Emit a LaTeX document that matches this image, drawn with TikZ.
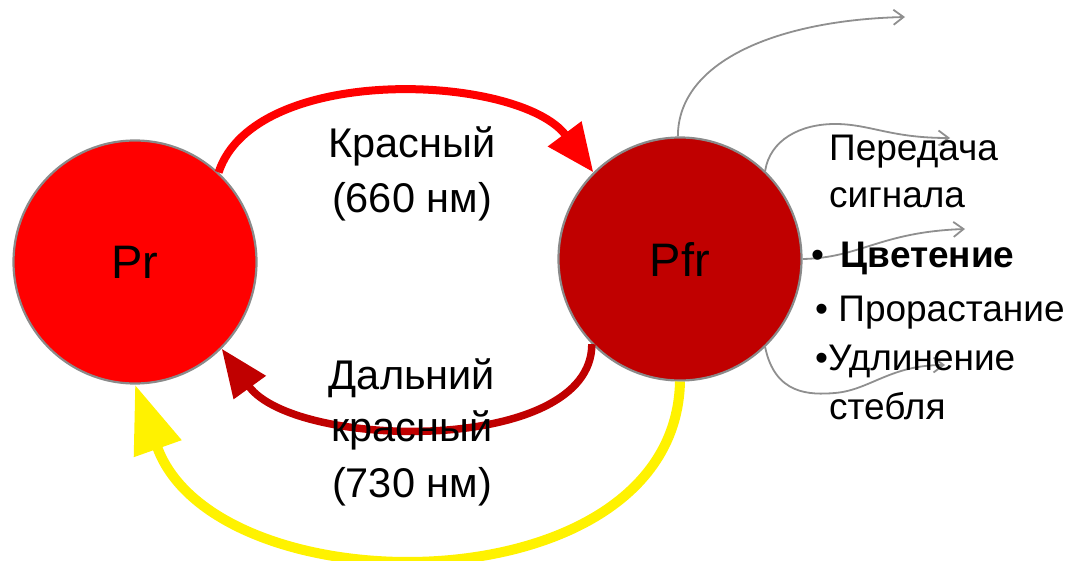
\documentclass[tikz,border=0pt]{standalone}
\usepackage{fontspec}
\setmainfont{Liberation Sans}
\usetikzlibrary{arrows.meta}
\definecolor{pfrred}{HTML}{C00000}
\definecolor{ringgray}{HTML}{8A8A8A}
\definecolor{flowgray}{HTML}{8F8F8F}
\begin{document}
\begin{tikzpicture}[x=1pt,y=-1pt,
  pigment/.style={circle, draw=ringgray, line width=2.2pt, minimum size=243pt, inner sep=0pt, font=\fontsize{47}{56}\selectfont},
  lbl/.style={anchor=base, inner sep=0pt, font=\fontsize{41.5}{49}\selectfont},
  effect/.style={anchor=base west, inner sep=0pt, font=\fontsize{37}{44}\selectfont},
  flow/.style={draw=flowgray, line width=1.8pt, -{Straight Barb[length=10pt,width=15pt]}}]
\useasboundingbox (0,0) rectangle (1068,561);
\node[pigment, fill=red] (pr) at (135,262) {Pr};
\node[pigment, fill=pfrred] (pfr) at (680,259) {Pfr};
\coordinate (e1) at (905,17);
\coordinate (e2) at (950,138);
\coordinate (e3) at (965,229);
\coordinate (e4) at (945,365);
\draw[flow] (pfr.91) .. controls (678,60) and (780,20) .. (e1);
\draw[flow] (pfr.46) .. controls (770,140) and (800,124) .. (835,124) .. controls (870,124) and (890,138) .. (e2);
\draw[flow] (pfr.0) .. controls (860,258) and (880,232) .. (e3);
\draw[flow] (pfr.-46) .. controls (775,395) and (810,395) .. (835,393) .. controls (870,390) and (890,365) .. (e4);
\draw[line width=8pt, red, -{Triangle[length=48pt,width=40pt]}] (pr.47) .. controls (255,62) and (520,74) .. (pfr.135);
\draw[line width=7.5pt, pfrred, -{Triangle[length=48pt,width=38pt]}] (pfr.-136) .. controls (592,455) and (295,450) .. (pr.-45);
\draw[line width=10pt, yellow, -{Triangle[length=68pt,width=48pt]}] (pfr.-90) .. controls (675,610) and (215,610) .. (pr.-90);
\node[lbl] (r1) at (412,158) {Красный};
\node[lbl] (r2) at (412,213) {(660 нм)};
\node[lbl] (f1) at (412,389) {Дальний};
\node[lbl] (f2) at (412,441) {красный};
\node[lbl] (f3) at (412,497) {(730 нм)};
\node[effect] (t1) at (829,161) {Передача};
\node[effect] (t2) at (829,208) {сигнала};
\node[effect] (t3) at (811,268) {\textbullet\hspace{0.45em}\textbf{Цветение}};
\node[effect] (t4) at (815,321) {\textbullet\ Прорастание};
\node[effect] (t5) at (815,370) {\textbullet Удлинение};
\node[effect] (t6) at (829,419) {стебля};
\end{tikzpicture}
\end{document}
